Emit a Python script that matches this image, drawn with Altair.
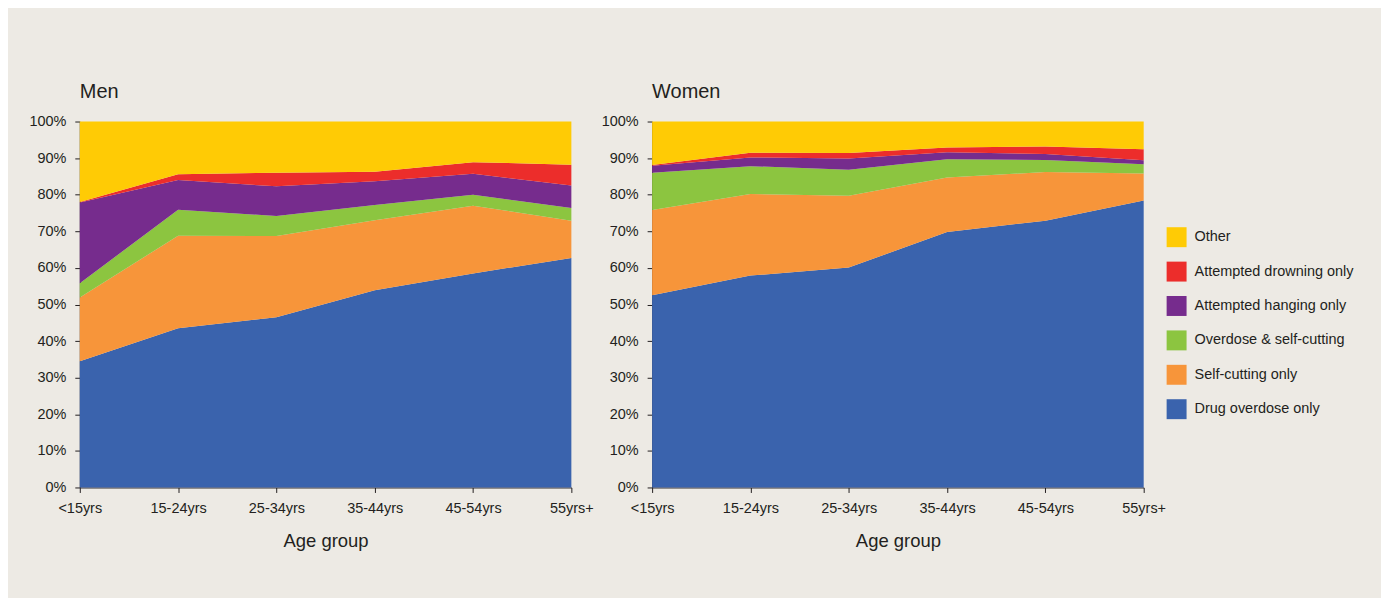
import altair as alt
import pandas as pd

ages = ["<15yrs", "15-24yrs", "25-34yrs", "35-44yrs", "45-54yrs", "55yrs+"]
methods_stack = [
    "Drug overdose only",
    "Self-cutting only",
    "Overdose & self-cutting",
    "Attempted hanging only",
    "Attempted drowning only",
    "Other",
]
legend_order = list(reversed(methods_stack))
colors = ["#FFCB05", "#EC2D2B", "#762C8D", "#8CC540", "#F7953A", "#3A63AD"]

# percentages per age group (Men)
men_drug = [34.5, 43.5, 46.5, 53.9, 58.5, 62.7]
men_self = [17.4, 25.3, 22.2, 19.1, 18.5, 10.2]
men_odcut = [3.9, 7.1, 5.5, 4.2, 3.0, 3.5]
men_hang = [22.1, 8.1, 8.1, 6.5, 5.7, 6.1]
men_drown = [0.1, 1.6, 3.7, 2.6, 3.2, 5.7]
men_other = [22.0, 14.4, 14.0, 13.7, 11.1, 11.8]

# percentages per age group (Women)
women_drug = [52.5, 57.9, 60.1, 69.8, 72.9, 78.4]
women_self = [23.3, 22.3, 19.6, 14.9, 13.3, 7.4]
women_odcut = [10.2, 7.6, 7.1, 5.0, 3.3, 2.5]
women_hang = [1.9, 2.4, 3.1, 1.9, 1.6, 1.1]
women_drown = [0.2, 1.3, 1.5, 1.3, 2.1, 3.0]
women_other = [11.9, 8.5, 8.6, 7.1, 6.8, 7.6]

men_series = [men_drug, men_self, men_odcut, men_hang, men_drown, men_other]
women_series = [women_drug, women_self, women_odcut, women_hang, women_drown, women_other]


def build(series):
    rows = []
    for k, (m, vals) in enumerate(zip(methods_stack, series)):
        for a, v in zip(ages, vals):
            rows.append({"age": a, "method": m, "value": v, "ord": k})
    return pd.DataFrame(rows)


FONT = "Liberation Sans"
TXT = "#231F20"


def panel(df, title):
    return (
        alt.Chart(df)
        .mark_area()
        .encode(
            x=alt.X(
                "age:N",
                sort=ages,
                scale=alt.Scale(type="point", padding=0),
                axis=alt.Axis(title="Age group", labelAngle=0),
            ),
            y=alt.Y(
                "value:Q",
                stack="normalize",
                scale=alt.Scale(domain=[0, 1]),
                axis=alt.Axis(
                    title=None,
                    format=".0%",
                    values=[i / 10 for i in range(11)],
                    grid=False,
                ),
            ),
            color=alt.Color(
                "method:N",
                scale=alt.Scale(domain=legend_order, range=colors),
                legend=alt.Legend(
                    title=None,
                    orient="none",
                    legendX=1090,
                    legendY=106,
                    symbolType="square",
                    symbolSize=400,
                    symbolStrokeWidth=0,
                    symbolOpacity=1,
                    labelFontSize=14.5,
                    labelFont=FONT,
                    labelColor=TXT,
                    labelLimit=400,
                    rowPadding=14.5,
                    labelOffset=8,
                ),
            ),
            order=alt.Order("ord:Q"),
        )
        .properties(
            width=493,
            height=367,
            title=alt.TitleParams(
                title,
                anchor="start",
                frame="group",
                fontSize=20,
                font=FONT,
                fontWeight="normal",
                color=TXT,
                offset=12,
            ),
        )
    )


men = panel(build(men_series), "Men")
women = panel(build(women_series), "Women")

chart = (
    alt.hconcat(men, women, spacing=81, bounds="flush")
    .properties(padding={"left": 20, "top": 73, "right": 27, "bottom": 47})
    .configure(background="#EDEAE4")
    .configure_view(stroke=None)
    .configure_axis(
        domainColor=TXT,
        tickColor=TXT,
        tickSize=5,
        labelFont=FONT,
        labelFontSize=14.5,
        labelColor=TXT,
        titleFont=FONT,
        titleFontSize=18.5,
        titleFontWeight="normal",
        titleColor=TXT,
    )
    .configure_axisX(labelPadding=9, titlePadding=17)
    .configure_axisY(labelPadding=9)
)

chart.save("out.html", embed_options={"renderer": "svg", "actions": False})
